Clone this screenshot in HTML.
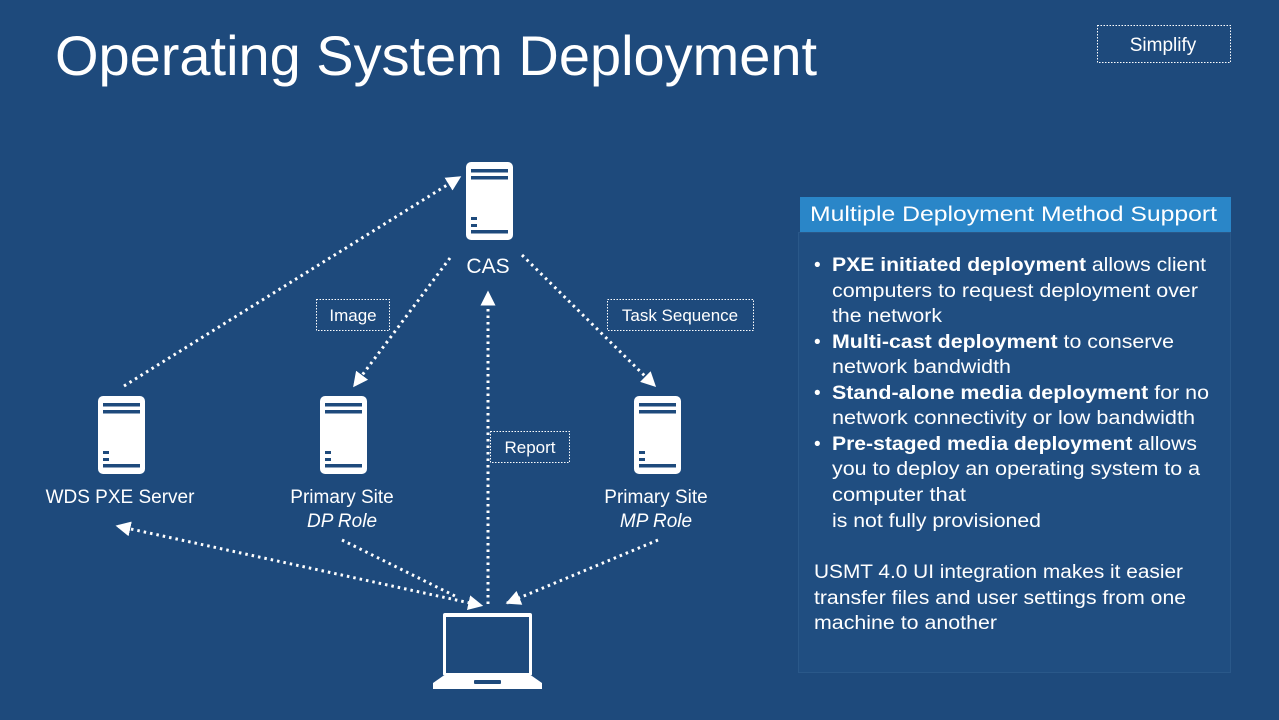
<!DOCTYPE html>
<html><head><meta charset="utf-8"><style>
html,body{margin:0;padding:0;background:#1e4a7c;}
svg{display:block;font-family:"Liberation Sans",sans-serif;}
</style></head><body>
<svg width="1279" height="720" viewBox="0 0 1279 720" xmlns="http://www.w3.org/2000/svg">
<defs>
<g id="srv">
<rect x="0" y="0" width="47" height="78" rx="5" fill="#fff"/>
<rect x="5" y="7" width="37" height="3.5" fill="#1e4a7c"/>
<rect x="5" y="14" width="37" height="3.5" fill="#1e4a7c"/>
<rect x="5" y="55" width="6" height="3" fill="#1e4a7c"/>
<rect x="5" y="62" width="6" height="3" fill="#1e4a7c"/>
<rect x="5" y="68" width="37" height="3.5" fill="#1e4a7c"/>
</g>
<marker id="ah" viewBox="0 0 10 10" refX="9" refY="5" markerWidth="5" markerHeight="5" orient="auto" markerUnits="strokeWidth"><path d="M0,0 L10,5 L0,10 z" fill="#fff"/></marker>
<marker id="as" viewBox="0 0 10 10" refX="1" refY="5" markerWidth="5" markerHeight="5" orient="auto-start-reverse" markerUnits="strokeWidth"><path d="M0,0 L10,5 L0,10 z" fill="#fff"/></marker>
</defs>
<rect width="1279" height="720" fill="#1e4a7c"/>
<text x="55" y="75" font-size="56" fill="#fff" textLength="762" lengthAdjust="spacingAndGlyphs">Operating System Deployment</text>
<rect x="1097.5" y="25.5" width="133" height="37" fill="none" stroke="#fff" stroke-width="1" stroke-dasharray="1.5,1.5"/>
<text x="1163" y="51" font-size="19" fill="#fff" text-anchor="middle">Simplify</text>

<g fill="none" stroke="#fff" stroke-width="3" stroke-dasharray="2.5,4" stroke-linecap="butt">
<line x1="124" y1="386" x2="460" y2="177" marker-end="url(#ah)"/>
<line x1="450" y1="258" x2="354" y2="386" marker-end="url(#ah)"/>
<line x1="522" y1="255" x2="655" y2="386" marker-end="url(#ah)"/>
<line x1="488" y1="604" x2="488" y2="292" marker-end="url(#ah)"/>
<line x1="470" y1="603" x2="117" y2="526" marker-end="url(#ah)" marker-start="url(#as)"/>
<line x1="342" y1="540" x2="455" y2="596"/>
<line x1="658" y1="540" x2="507" y2="603" marker-end="url(#ah)"/>
</g>

<use href="#srv" x="466" y="162"/>
<use href="#srv" x="98" y="396"/>
<use href="#srv" x="320" y="396"/>
<use href="#srv" x="634" y="396"/>

<g fill="#fff" font-size="19" text-anchor="middle">
<text x="488" y="273" font-size="21">CAS</text>
<text x="120" y="503">WDS PXE Server</text>
<text x="342" y="503">Primary Site</text>
<text x="342" y="527" font-style="italic">DP Role</text>
<text x="656" y="503">Primary Site</text>
<text x="656" y="527" font-style="italic">MP Role</text>
</g>

<g fill="#1e4a7c" stroke="#fff" stroke-width="1" stroke-dasharray="1.5,1.5">
<rect x="316.5" y="299.5" width="73" height="31"/>
<rect x="607.5" y="299.5" width="146" height="31"/>
<rect x="490.5" y="431.5" width="79" height="31"/>
</g>
<g fill="#fff" font-size="17" text-anchor="middle">
<text x="353" y="321">Image</text>
<text x="680" y="321">Task Sequence</text>
<text x="530" y="453">Report</text>
</g>

<!-- laptop -->
<rect x="443" y="613" width="89" height="63" rx="2" fill="#fff"/>
<rect x="446" y="617" width="83" height="56" fill="#1e4a7c"/>
<path d="M443,676 L532,676 L542,683 L542,689 L433,689 L433,683 Z" fill="#fff"/>
<rect x="474" y="680" width="27" height="4" rx="1" fill="#1e4a7c"/>

<!-- panel -->
<rect x="798.5" y="232.5" width="432" height="440" fill="#204e81" stroke="#2a5889" stroke-width="1"/>
<rect x="800" y="197" width="431" height="35" fill="#2a86c8"/>
<text x="810" y="221" font-size="21" fill="#fff" textLength="407" lengthAdjust="spacingAndGlyphs">Multiple Deployment Method Support</text>
<g fill="#fff" font-size="19" lengthAdjust="spacingAndGlyphs">
<text x="814" y="271">•</text>
<text x="832" y="271" textLength="374" lengthAdjust="spacingAndGlyphs"><tspan font-weight="bold">PXE initiated deployment</tspan> allows client</text>
<text x="832" y="297" textLength="366" lengthAdjust="spacingAndGlyphs">computers to request deployment over</text>
<text x="832" y="322" textLength="110" lengthAdjust="spacingAndGlyphs">the network</text>
<text x="814" y="348">•</text>
<text x="832" y="348" textLength="342" lengthAdjust="spacingAndGlyphs"><tspan font-weight="bold">Multi-cast deployment</tspan> to conserve</text>
<text x="832" y="373" textLength="179" lengthAdjust="spacingAndGlyphs">network bandwidth</text>
<text x="814" y="399">•</text>
<text x="832" y="399" textLength="377" lengthAdjust="spacingAndGlyphs"><tspan font-weight="bold">Stand-alone media deployment</tspan> for no</text>
<text x="832" y="424" textLength="363" lengthAdjust="spacingAndGlyphs">network connectivity or low bandwidth</text>
<text x="814" y="450">•</text>
<text x="832" y="450" textLength="365" lengthAdjust="spacingAndGlyphs"><tspan font-weight="bold">Pre-staged media deployment</tspan> allows</text>
<text x="832" y="475" textLength="368" lengthAdjust="spacingAndGlyphs">you to deploy an operating system to a</text>
<text x="832" y="501" textLength="134" lengthAdjust="spacingAndGlyphs">computer that</text>
<text x="832" y="527" textLength="209" lengthAdjust="spacingAndGlyphs">is not fully provisioned</text>
<text x="814" y="578" textLength="369" lengthAdjust="spacingAndGlyphs">USMT 4.0 UI integration makes it easier</text>
<text x="814" y="604" textLength="372" lengthAdjust="spacingAndGlyphs">transfer files and user settings from one</text>
<text x="814" y="629" textLength="183" lengthAdjust="spacingAndGlyphs">machine to another</text>
</g>
</svg>
</body></html>
